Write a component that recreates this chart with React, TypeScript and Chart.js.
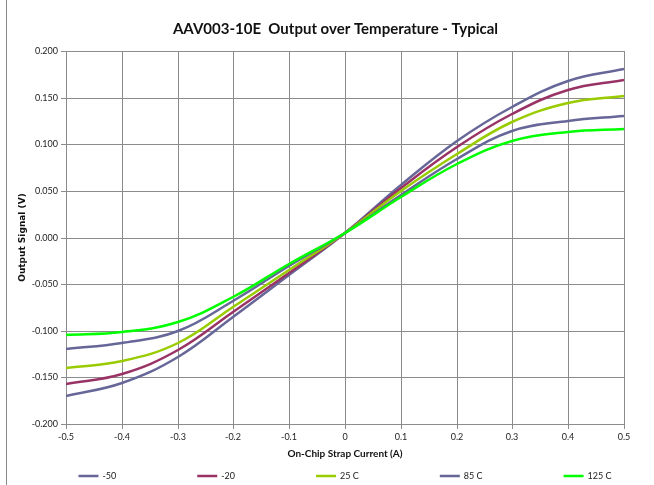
import { useEffect, useRef } from "react";
import { Chart, registerables } from "chart.js";

Chart.register(...registerables);

const currents = [-0.5, -0.4, -0.3, -0.2, -0.1, 0, 0.1, 0.2, 0.3, 0.4, 0.5];
const seriesM50 = [-0.170, -0.156, -0.128, -0.085, -0.040, 0.005, 0.056, 0.103, 0.140, 0.168, 0.181];
const seriesM20 = [-0.157, -0.146, -0.121, -0.080, -0.038, 0.005, 0.053, 0.097, 0.132, 0.158, 0.169];
const series25 = [-0.140, -0.132, -0.113, -0.075, -0.035, 0.005, 0.050, 0.090, 0.124, 0.144, 0.152];
const series85 = [-0.120, -0.113, -0.100, -0.068, -0.031, 0.005, 0.046, 0.084, 0.1145, 0.125, 0.130];
const series125 = [-0.105, -0.101, -0.091, -0.064, -0.028, 0.005, 0.043, 0.079, 0.104, 0.1135, 0.1165];

const seriesLabels = ["-50", "-20", "25 C", "85 C", "125 C"];
const seriesColors = ["#666699", "#993366", "#99CC00", "#666699", "#00FF00"];
const seriesValues = [seriesM50, seriesM20, series25, series85, series125];

const chartTitle = "AAV003-10E  Output over Temperature - Typical";
const xTitle = "On-Chip Strap Current (A)";
const yTitle = "Output Signal (V)";

const FONT = "Lato, 'Liberation Sans', sans-serif";
const WIDE = "'DejaVu Sans', 'Open Sans', sans-serif";
const GRID = "#8c8c8c";

const legendPlugin = {
  id: "rowLegend",
  afterDraw(chart: any) {
    const ctx = chart.ctx;
    const ds = chart.data.datasets;
    ctx.save();
    ctx.font = `9px ${FONT}`;
    const lineLen = 20;
    const gap = 4;
    const pad = 81;
    const widths = ds.map((d: any) => lineLen + gap + ctx.measureText(d.label).width);
    const total = widths.reduce((a: number, b: number) => a + b, 0) + pad * (ds.length - 1);
    let x = (chart.chartArea.left + chart.chartArea.right) / 2 - total / 2;
    const y = chart.height - 9;
    ds.forEach((d: any, i: number) => {
      ctx.strokeStyle = d.borderColor;
      ctx.lineWidth = 2.5;
      ctx.beginPath();
      ctx.moveTo(x, y);
      ctx.lineTo(x + lineLen, y);
      ctx.stroke();
      ctx.fillStyle = "#222";
      ctx.textBaseline = "middle";
      ctx.textAlign = "left";
      ctx.fillText(d.label, x + lineLen + gap, y);
      x += widths[i] + pad;
    });
    ctx.restore();
  },
};

export default function App() {
  const canvasRef = useRef<HTMLCanvasElement | null>(null);

  useEffect(() => {
    if (!canvasRef.current) return;
    const datasets = seriesValues.map((vals, i) => ({
      label: seriesLabels[i],
      data: currents.map((c, j) => ({ x: c, y: vals[j] })),
      borderColor: seriesColors[i],
      backgroundColor: seriesColors[i],
      borderWidth: 2.5,
      pointRadius: 0,
      fill: false,
      tension: 0.4,
      order: seriesValues.length - i,
    }));

    const chart = new Chart(canvasRef.current, {
      type: "line",
      data: { datasets },
      plugins: [legendPlugin],
      options: {
        animation: false,
        responsive: false,
        maintainAspectRatio: false,
        layout: { padding: { left: 17, right: 0, top: 0, bottom: 25 } },
        plugins: {
          legend: { display: false },
          tooltip: { enabled: false },
          title: {
            display: true,
            text: chartTitle,
            color: "#111",
            font: { family: FONT, size: 15, weight: "bold" },
            padding: { top: 20, bottom: 13 },
          },
        },
        scales: {
          x: {
            type: "linear",
            min: -0.5,
            max: 0.5,
            alignToPixels: true,
            ticks: {
              stepSize: 0.1,
              color: "#222",
              font: { family: FONT, size: 9 },
              padding: 3,
              maxRotation: 0,
              callback: (v: any) => (Math.abs(Number(v)) < 1e-9 ? "0" : Number(v).toFixed(1)),
            },
            grid: { color: GRID, lineWidth: 1, tickLength: 5 },
            border: { color: GRID },
            title: {
              display: true,
              text: xTitle,
              color: "#111",
              font: { family: FONT, size: 10, weight: "bold" },
              padding: { top: 2, bottom: 0 },
            },
            afterFit: (s: any) => {
              s.height = 36;
            },
          },
          y: {
            type: "linear",
            position: "left",
            min: -0.2,
            max: 0.2,
            alignToPixels: true,
            ticks: {
              stepSize: 0.05,
              color: "#222",
              font: { family: FONT, size: 9 },
              padding: 3,
              callback: (v: any) => (Math.abs(Number(v)) < 1e-9 ? "0.000" : Number(v).toFixed(3)),
            },
            grid: { color: GRID, lineWidth: 1, tickLength: 5 },
            border: { color: GRID },
            title: {
              display: true,
              text: yTitle,
              color: "#111",
              font: { family: WIDE, size: 9, weight: "bold" },
              padding: { top: 0, bottom: 0 },
            },
            afterFit: (s: any) => {
              s.width = 49;
            },
          },
          yPad: {
            type: "linear",
            position: "right",
            display: true,
            ticks: { display: false },
            grid: { display: false },
            border: { display: false },
            afterFit: (s: any) => {
              s.width = 30;
            },
          },
        },
      } as any,
    });
    return () => chart.destroy();
  }, []);

  return (
    <div style={{ position: "absolute", left: 0, top: 0, width: 654, height: 485, background: "#fff" }}>
      <canvas ref={canvasRef} width={654} height={485} style={{ display: "block", width: 654, height: 485 }} />
      <div style={{ position: "absolute", left: 6, top: 0, width: 1, height: 485, background: "#888" }} />
    </div>
  );
}
